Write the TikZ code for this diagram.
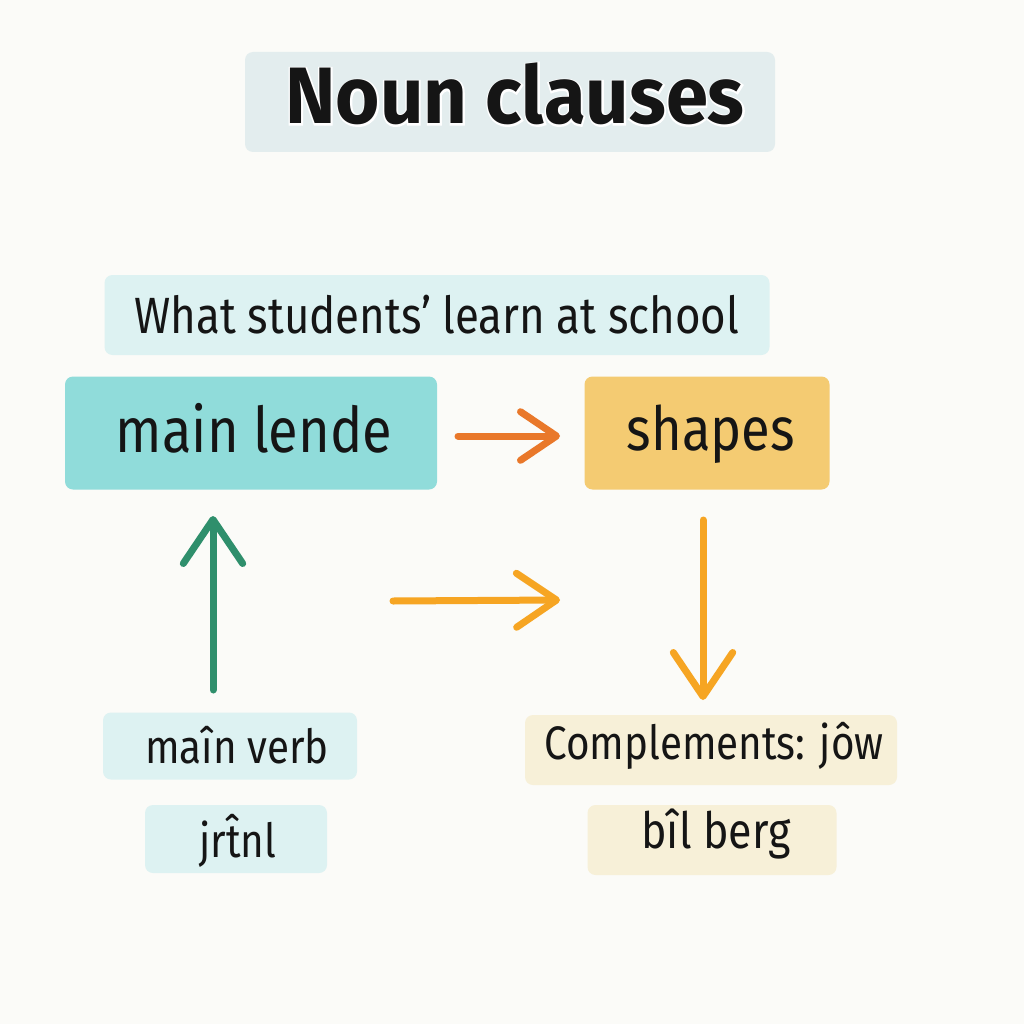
\documentclass[tikz,border=0pt]{standalone}
\usepackage{fontspec}
\setmainfont{Fira Sans}[FakeStretch=0.86]
\newfontfamily\titlefont{Fira Sans}[FakeStretch=0.95]
\newfontfamily\titlehalo{Fira Sans}[FakeStretch=0.95, FakeBold=4]
\usetikzlibrary{arrows.meta}
\definecolor{bgc}{HTML}{FBFBF8}
\definecolor{titlebox}{HTML}{E3EDEE}
\definecolor{lightcyan}{HTML}{DDF2F2}
\definecolor{tealbox}{HTML}{90DCDA}
\definecolor{goldbox}{HTML}{F4CB72}
\definecolor{beigebox}{HTML}{F7F0D8}
\definecolor{darkorange}{HTML}{E9782A}
\definecolor{lightorange}{HTML}{F6A523}
\definecolor{greenarrow}{HTML}{2F8F6C}
\definecolor{inkc}{HTML}{151515}
\tikzset{
  box/.style={rounded corners=8pt, inner sep=0pt, draw=none},
  txt/.style={anchor=base, inner sep=0pt, text=inkc},
  arr/.style={line width=7pt, line cap=round,
    -{Straight Barb[length=#1, width=1.35*#1, round]}},
}
\begin{document}
\begin{tikzpicture}[x=1pt,y=-1pt]
\fill[bgc] (0,0) rectangle (1024,1024);
\useasboundingbox (0,0) rectangle (1024,1024);

% title
\node[box, fill=titlebox, minimum width=530, minimum height=100] (titlebg) at (510,102) {};
\node[txt, text=white] (titlehalo) at (515,124) {\fontsize{80}{82}\selectfont\titlehalo\bfseries Noun clauses};
\node[txt] (title) at (515,124) {\fontsize{80}{82}\selectfont\titlefont\bfseries Noun clauses};

% subtitle
\node[box, fill=lightcyan, minimum width=665, minimum height=80] (subbg) at (437,315) {};
\node[txt] (sub) at (437,333) {\fontsize{51}{53}\selectfont What students’ learn at school};

% main row
\node[box, fill=tealbox, minimum width=372, minimum height=113] (mainbg) at (251,433) {};
\node[txt] (main) at (254,452) {\fontsize{63}{65}\selectfont main lende};
\node[box, fill=goldbox, minimum width=245, minimum height=113] (shapesbg) at (707,433) {};
\node[txt] (shapes) at (711,450) {\fontsize{61}{63}\selectfont shapes};

% bottom left
\node[box, fill=lightcyan, minimum width=254, minimum height=67] (verbbg) at (230,746) {};
\node[txt] (verb) at (237,763) {\fontsize{47}{49}\selectfont maîn verb};
\node[box, fill=lightcyan, minimum width=182, minimum height=68] (jrbg) at (236,839) {};
\node[txt] (jr) at (238,857) {\fontsize{47}{49}\selectfont jr\^{t}nl};

% bottom right
\node[box, fill=beigebox, minimum width=372, minimum height=70] (compbg) at (711,750) {};
\node[txt] (comp) at (714,759) {\fontsize{47}{49}\selectfont Complements: jôw};
\node[box, fill=beigebox, minimum width=249, minimum height=70] (bilbg) at (712,840) {};
\node[txt] (bil) at (716,848) {\fontsize{50}{52}\selectfont bîl berg};

% arrows
\coordinate (o1s) at (458,436);
\coordinate (o1e) at (560,436);
\draw[arr=36pt, darkorange] (o1s) -- (o1e);
\coordinate (gs) at (213,690);
\coordinate (ge) at (213,516);
\draw[arr=44pt, greenarrow] (gs) -- (ge);
\coordinate (ms) at (393,601);
\coordinate (me) at (560,600);
\draw[arr=40pt, lightorange] (ms) -- (me);
\coordinate (ds) at (703,520);
\coordinate (de) at (703,700);
\draw[arr=44pt, lightorange] (ds) -- (de);
\end{tikzpicture}
\end{document}
